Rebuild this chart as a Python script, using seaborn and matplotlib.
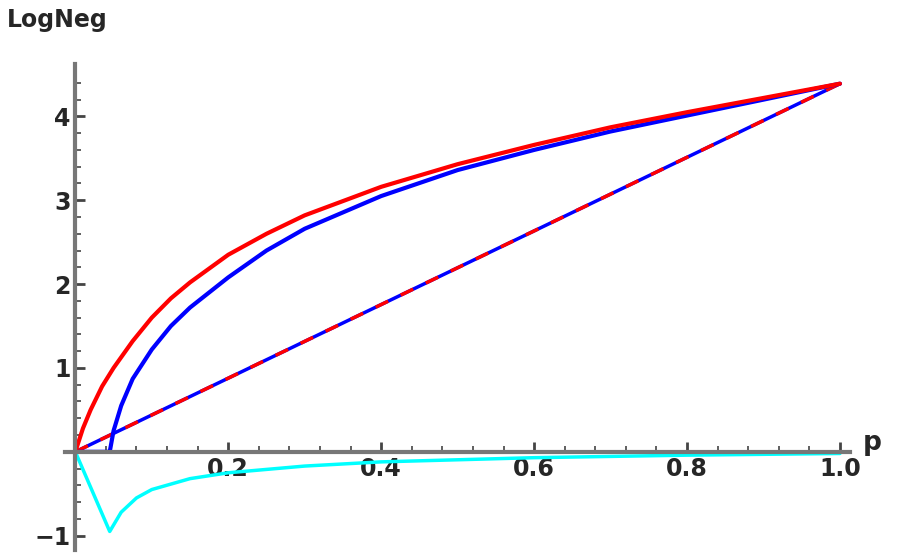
import matplotlib
matplotlib.use("Agg")
import matplotlib.pyplot as plt
import seaborn as sns
import numpy as np

sns.set_theme(style="white")
plt.rcParams['font.family'] = ['DejaVu Sans']

p_red = [0, 0.01, 0.02, 0.035, 0.05, 0.075, 0.1, 0.125, 0.15, 0.2, 0.25, 0.3, 0.4, 0.5, 0.6, 0.7, 0.8, 0.9, 1.0]
red = [0, 0.28, 0.5, 0.78, 1.0, 1.32, 1.6, 1.83, 2.02, 2.35, 2.6, 2.82, 3.16, 3.43, 3.66, 3.87, 4.05, 4.22, 4.39]
p_blue = [0, 0.045, 0.05, 0.06, 0.075, 0.1, 0.125, 0.15, 0.2, 0.25, 0.3, 0.4, 0.5, 0.6, 0.7, 0.8, 0.9, 1.0]
blue = [0, 0, 0.25, 0.55, 0.87, 1.22, 1.5, 1.72, 2.08, 2.4, 2.66, 3.05, 3.36, 3.6, 3.82, 4.01, 4.2, 4.39]
p_cyan = [0, 0.045, 0.06, 0.08, 0.1, 0.15, 0.2, 0.3, 0.4, 0.6, 0.8, 1.0]
cyan = [0, -0.95, -0.72, -0.55, -0.45, -0.32, -0.25, -0.17, -0.12, -0.07, -0.04, -0.02]
p_line = [0, 1.0]
line = [0, 4.39]

fig, ax = plt.subplots(figsize=(9.08, 5.6), dpi=100)
fig.subplots_adjust(left=0.072, right=0.936, bottom=0.018, top=0.885)

sns.lineplot(x=p_line, y=line, ax=ax, color="blue", lw=2.5, sort=False)
ax.plot(p_line, line, color="red", lw=2.5, dashes=(4, 4))
sns.lineplot(x=p_cyan, y=cyan, ax=ax, color="cyan", lw=2.5, sort=False)
sns.lineplot(x=p_blue, y=blue, ax=ax, color="blue", lw=3, sort=False)
sns.lineplot(x=p_red, y=red, ax=ax, color="red", lw=3, sort=False)

ax.set_xlim(-0.013, 1.013)
ax.set_ylim(-1.17, 4.62)
for s in ["top", "right"]:
    ax.spines[s].set_visible(False)
for s in ["left", "bottom"]:
    ax.spines[s].set_position(("data", 0))
    ax.spines[s].set_color("#777777")
    ax.spines[s].set_linewidth(3)
ax.set_xticks([0.2, 0.4, 0.6, 0.8, 1.0])
ax.set_xticklabels(["0.2", "0.4", "0.6", "0.8", "1.0"])
ax.set_yticks([-1, 1, 2, 3, 4])
ax.set_yticklabels(["−1", "1", "2", "3", "4"])
ax.set_xticks(np.arange(0.04, 1.0, 0.04), minor=True)
ax.set_yticks(np.arange(-1, 4.6, 0.2), minor=True)
ax.tick_params(which="major", direction="in", length=7, width=2, color="#444444",
               labelsize=17, bottom=True, left=True)
ax.tick_params(which="minor", direction="in", length=4, width=1.2, color="#444444",
               bottom=True, left=True)
for t in ax.get_xticklabels() + ax.get_yticklabels():
    t.set_fontweight("bold")
ax.text(-0.09, 5.15, "LogNeg", fontsize=17, fontweight="bold", ha="left", va="center")
ax.text(1.03, 0.1, "p", fontsize=19, fontweight="bold", ha="left", va="center")
fig.savefig("out.png")
